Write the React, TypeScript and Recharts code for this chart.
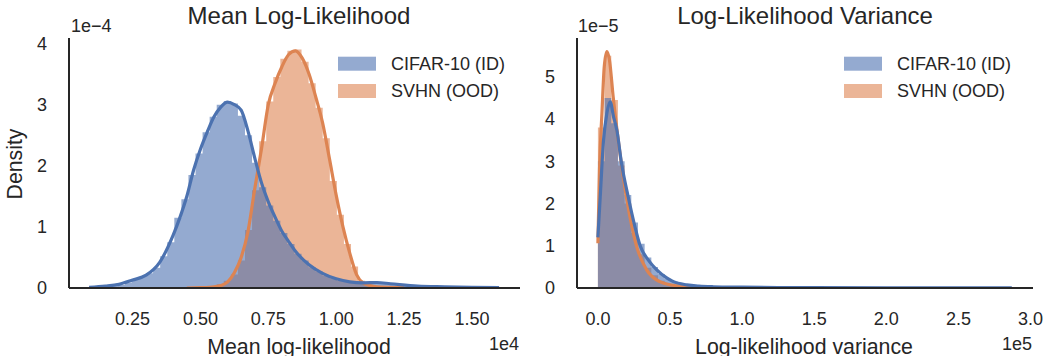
import { ComposedChart, Area, Line, XAxis, YAxis, Legend } from "recharts";

const BLUE = "#4c72b0";
const ORANGE = "#dd8452";
const INK = "#262626";
const FONT = '"Liberation Sans", Arial, sans-serif';

const seriesNames = ["CIFAR-10 (ID)", "SVHN (OOD)"];

// left panel: mean log-likelihood (x in 1e4, density in 1e-4)
const meanBinStart = 0.0915;
const meanBinWidth = 0.02603;
const meanHistCifar = [
  0, 0.01, 0.02, 0.03, 0.05, 0.09, 0.14, 0.18, 0.24, 0.33, 0.52, 0.75, 1.15, 1.45, 1.85, 2.2, 2.55, 2.8,
  3.0, 3.06, 3.02, 2.82, 2.5, 2.05, 1.65, 1.35, 1.1, 0.9, 0.72, 0.56, 0.45, 0.34, 0.27, 0.2, 0.16, 0.12,
  0.1, 0.09, 0.08, 0.08, 0.09, 0.08, 0.06, 0.05, 0.04, 0.035, 0.03, 0.025, 0.02, 0.02, 0.02, 0.015, 0.015,
  0.01, 0.01, 0.01, 0.005, 0.005,
];
const meanHistSvhn = [
  0, 0, 0, 0, 0, 0, 0, 0, 0, 0, 0, 0, 0, 0, 0.003, 0.005, 0.01, 0.03, 0.06, 0.12, 0.22, 0.45, 0.95, 1.6,
  2.4, 3.05, 3.45, 3.75, 3.88, 3.9, 3.7, 3.35, 2.95, 2.45, 1.75, 1.2, 0.72, 0.35, 0.12, 0.05, 0.02, 0.01,
  0.005,
];
const meanKdeCifarX = [
  0.09, 0.15, 0.2, 0.25, 0.3, 0.35, 0.4, 0.425, 0.45, 0.475, 0.5, 0.525, 0.55, 0.575, 0.6, 0.625, 0.65,
  0.675, 0.7, 0.725, 0.75, 0.775, 0.8, 0.825, 0.85, 0.9, 0.95, 1.0, 1.05, 1.1, 1.15, 1.2, 1.3, 1.4, 1.5, 1.6,
];
const meanKdeCifar = [
  0.01, 0.03, 0.06, 0.13, 0.21, 0.42, 0.87, 1.16, 1.5, 1.93, 2.27, 2.55, 2.8, 2.96, 3.04, 3.0, 2.91, 2.57,
  2.13, 1.72, 1.41, 1.16, 0.93, 0.76, 0.6, 0.38, 0.24, 0.15, 0.1, 0.085, 0.09, 0.07, 0.03, 0.02, 0.012, 0.005,
];
const meanKdeSvhnX = [
  0.45, 0.5, 0.55, 0.575, 0.6, 0.625, 0.65, 0.675, 0.7, 0.725, 0.75, 0.775, 0.8, 0.825, 0.85, 0.875, 0.9,
  0.925, 0.95, 0.975, 1.0, 1.025, 1.05, 1.075, 1.1, 1.125, 1.15, 1.2, 1.25,
];
const meanKdeSvhn = [
  0, 0.005, 0.02, 0.04, 0.1, 0.25, 0.5, 0.92, 1.62, 2.28, 3.0, 3.35, 3.62, 3.82, 3.88, 3.76, 3.5, 3.12,
  2.7, 2.12, 1.52, 1.0, 0.57, 0.22, 0.08, 0.04, 0.02, 0.01, 0.005,
];
const meanTicks = [0.25, 0.5, 0.75, 1.0, 1.25, 1.5];
const meanDensityTicks = [0, 1, 2, 3, 4];

// right panel: log-likelihood variance (x in 1e5, density in 1e-5)
const varBinStart = 0;
const varBinWidth = 0.0463;
const varHistCifar = [
  3.0, 4.5, 3.9, 3.0, 2.2, 1.55, 1.05, 0.72, 0.5, 0.33, 0.22, 0.15, 0.1, 0.07, 0.05, 0.04, 0.03, 0.025,
  0.02, 0.02, 0.018, 0.015, 0.013, 0.012, 0.01, 0.01, 0.009, 0.008, 0.008, 0.007, 0.007, 0.006, 0.006,
  0.005, 0.005, 0.005, 0.004, 0.004, 0.004, 0.004, 0.003, 0.003, 0.003, 0.003, 0.003, 0.003, 0.002, 0.002,
  0.002, 0.002, 0.002, 0.002, 0.002, 0.002, 0.002, 0.002, 0.002, 0.002, 0.002, 0.002, 0.002, 0.002,
];
const varHistSvhn = [
  3.8, 5.5, 4.45, 2.9, 2.0, 1.3, 0.8, 0.48, 0.3, 0.17, 0.1, 0.06, 0.04, 0.025, 0.015, 0.01, 0.005, 0.003,
  0.002, 0.001,
];
const varKdeCifarX = [
  0, 0.016, 0.039, 0.062, 0.085, 0.108, 0.131, 0.164, 0.21, 0.257, 0.293, 0.35, 0.408, 0.477, 0.524, 0.616,
  0.7, 0.8, 1.0, 1.25, 1.5, 2.0, 2.5, 2.87,
];
const varKdeCifar = [
  1.2, 2.16, 3.5, 4.14, 4.41, 4.06, 3.74, 2.95, 2.16, 1.45, 1.0, 0.66, 0.43, 0.24, 0.15, 0.075, 0.045, 0.03,
  0.02, 0.012, 0.01, 0.006, 0.004, 0.003,
];
const varKdeSvhnX = [0, 0.011, 0.028, 0.044, 0.062, 0.08, 0.106, 0.141, 0.176, 0.222, 0.269, 0.338, 0.43, 0.547, 0.65, 0.75, 0.9];
const varKdeSvhn = [1.06, 2.8, 4.14, 5.24, 5.6, 5.4, 4.52, 3.5, 2.63, 1.69, 0.98, 0.43, 0.15, 0.05, 0.02, 0.01, 0.005];
const varTicks = [0, 0.5, 1.0, 1.5, 2.0, 2.5, 3.0];
const varDensityTicks = [0, 1, 2, 3, 4, 5];

type Row = { x: number; [k: string]: number };

// bin edges from start/width; trailing 0 closes the last step
function histSeries(key: string, start: number, width: number, heights: number[]) {
  const xs = heights.map((_, i) => start + i * width).concat(start + heights.length * width);
  return { key, xs, ys: [...heights, 0] };
}

function buildRows(series: { key: string; xs: number[]; ys: number[] }[]) {
  const map = new Map<number, Row>();
  series.forEach((s) => {
    s.xs.forEach((x, i) => {
      const k = +x.toFixed(6);
      const row = map.get(k) ?? { x: k };
      row[s.key] = s.ys[i];
      map.set(k, row);
    });
  });
  return [...map.values()].sort((a, b) => a.x - b.x);
}

const meanRows = buildRows([
  histSeries("histCifar", meanBinStart, meanBinWidth, meanHistCifar),
  histSeries("histSvhn", meanBinStart, meanBinWidth, meanHistSvhn),
  { key: "kdeCifar", xs: meanKdeCifarX, ys: meanKdeCifar },
  { key: "kdeSvhn", xs: meanKdeSvhnX, ys: meanKdeSvhn },
]);

const varRows = buildRows([
  histSeries("histCifar", varBinStart, varBinWidth, varHistCifar),
  histSeries("histSvhn", varBinStart, varBinWidth, varHistSvhn),
  { key: "kdeCifar", xs: varKdeCifarX, ys: varKdeCifar },
  { key: "kdeSvhn", xs: varKdeSvhnX, ys: varKdeSvhn },
]);

const tickStyle = { fontSize: 18, fill: INK, fontFamily: FONT };

function LegendBox() {
  const colors = [BLUE, ORANGE];
  return (
    <svg width={180} height={56} style={{ display: "block", fontFamily: FONT }}>
      {seriesNames.map((name, i) => (
        <g key={name}>
          <rect x={0} y={6.7 + i * 27.3} width={38} height={14} fill={colors[i]} fillOpacity={0.6} />
          <text x={53} y={20 + i * 27} fontSize={18} fill={INK}>
            {name}
          </text>
        </g>
      ))}
    </svg>
  );
}

function Panel(props: {
  rows: Row[];
  width: number;
  yAxisWidth: number;
  right: number;
  xDomain: [number, number];
  xTicks: number[];
  digits: number;
  yDomain: [number, number];
  yTicks: number[];
  legendLeft: number;
}) {
  const p = props;
  return (
    <ComposedChart
      width={p.width}
      height={356}
      data={p.rows}
      margin={{ top: 38, right: p.right, bottom: 0, left: 0 }}
    >
      <XAxis
        dataKey="x"
        type="number"
        domain={p.xDomain}
        ticks={p.xTicks}
        allowDataOverflow
        tickFormatter={(v: number) => v.toFixed(p.digits)}
        height={68}
        tickSize={0}
        tickMargin={24}
        tick={tickStyle}
        axisLine={{ stroke: INK, strokeWidth: 2 }}
      />
      <YAxis
        type="number"
        domain={p.yDomain}
        ticks={p.yTicks}
        allowDataOverflow
        width={p.yAxisWidth}
        tickSize={0}
        tickMargin={22}
        tick={tickStyle}
        axisLine={{ stroke: INK, strokeWidth: 2 }}
      />
      <Legend
        layout="vertical"
        align="center"
        verticalAlign="middle"
        content={() => <LegendBox />}
        wrapperStyle={{ left: p.legendLeft, top: 50, width: 180, height: 56 }}
      />
      <Area dataKey="histSvhn" type="stepAfter" connectNulls stroke="none" fill={ORANGE} fillOpacity={0.6} dot={false} activeDot={false} isAnimationActive={false} />
      <Area dataKey="histCifar" type="stepAfter" connectNulls stroke="none" fill={BLUE} fillOpacity={0.6} dot={false} activeDot={false} isAnimationActive={false} />
      <Line dataKey="kdeSvhn" type="monotone" connectNulls stroke={ORANGE} strokeWidth={3.2} dot={false} activeDot={false} isAnimationActive={false} />
      <Line dataKey="kdeCifar" type="monotone" connectNulls stroke={BLUE} strokeWidth={3.2} dot={false} activeDot={false} isAnimationActive={false} />
    </ComposedChart>
  );
}

export default function App() {
  return (
    <div style={{ position: "absolute", left: 0, top: 0, width: 1047, height: 356, background: "#fff", fontFamily: FONT }}>
      <div style={{ position: "absolute", left: 0, top: 0 }}>
        <Panel
          rows={meanRows}
          width={530}
          yAxisWidth={69}
          right={10}
          xDomain={[0.016, 1.677]}
          xTicks={meanTicks}
          digits={2}
          yDomain={[0, 4.09]}
          yTicks={meanDensityTicks}
          legendLeft={338}
        />
      </div>
      <div style={{ position: "absolute", left: 530, top: 0 }}>
        <Panel
          rows={varRows}
          width={517}
          yAxisWidth={47}
          right={14}
          xDomain={[-0.145, 3.017]}
          xTicks={varTicks}
          digits={1}
          yDomain={[0, 5.92]}
          yTicks={varDensityTicks}
          legendLeft={314}
        />
      </div>
      <svg width={1047} height={356} style={{ position: "absolute", left: 0, top: 0, pointerEvents: "none" }} fontFamily={FONT} fill={INK}>
        <text x={299} y={24} fontSize={24} textAnchor="middle">Mean Log-Likelihood</text>
        <text x={805} y={24} fontSize={24} textAnchor="middle">Log-Likelihood Variance</text>
        <text x={71} y={32} fontSize={18}>1e−4</text>
        <text x={578} y={32} fontSize={18}>1e−5</text>
        <text x={519} y={350} fontSize={18} textAnchor="end">1e4</text>
        <text x={1032} y={350} fontSize={18} textAnchor="end">1e5</text>
        <text x={299} y={354} fontSize={21.3} textAnchor="middle">Mean log-likelihood</text>
        <text x={804} y={354} fontSize={21.3} textAnchor="middle">Log-likelihood variance</text>
        <text transform="translate(22,164) rotate(-90)" fontSize={21.3} textAnchor="middle">Density</text>
      </svg>
    </div>
  );
}
